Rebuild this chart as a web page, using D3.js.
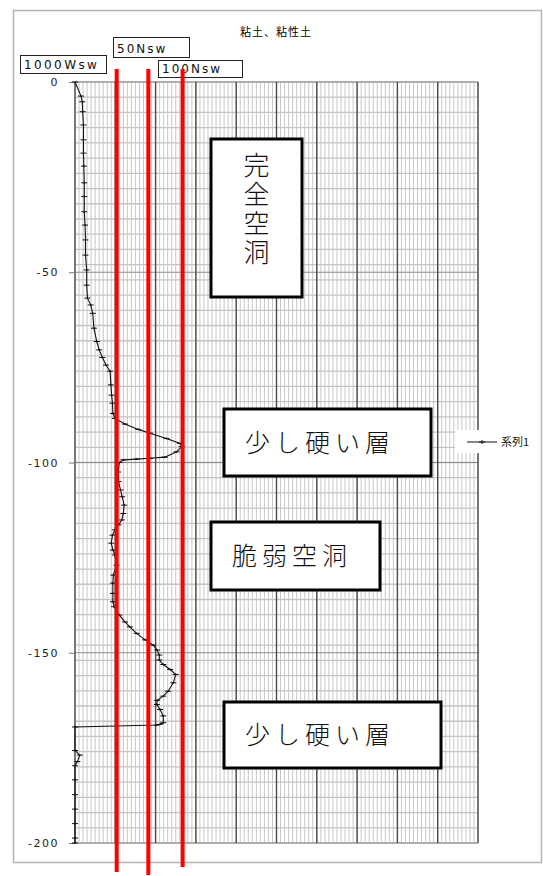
<!DOCTYPE html>
<html>
<head>
<meta charset="utf-8">
<script src="https://cdn.jsdelivr.net/npm/d3@7"></script>
<style>
  body { margin: 0; background: #fff; }
  svg { display: block; }
</style>
</head>
<body>
<svg width="543" height="876"></svg>
<script>
// depth (cm, negative downward) and sounding value
const depth = [0, -3.7, -5.2, -7.8, -11.3, -15.2, -18.7, -22.1, -26.5, -30.1, -34.1, -37.6, -41.5, -45.5, -49.4,
  -53.4, -56.8, -58.6, -60.8, -64.7, -68.2, -70.4, -72.4, -74.4, -76.0, -79.6, -82.3, -84.4, -87.1, -88.4,
  -89.9, -91.3, -92.3, -93.7, -95.0, -95.8, -97.2, -98.6, -98.9, -99.1, -99.3, -100.0, -102.5, -105.0, -107.2,
  -109.0, -111.2, -113.4, -115.1, -116.4, -117.7, -119.1, -121.2, -123.0, -124.3, -127.0, -129.6, -131.7, -134.4,
  -136.6, -137.9, -140.1, -141.9, -143.2, -144.9, -146.6, -148.0, -149.3, -150.6, -151.9, -153.1, -154.4, -155.7,
  -157.9, -160.1, -161.4, -162.5, -163.6, -164.9, -166.6, -168.4, -168.8, -169.0, -169.5, -175.7, -176.9, -178.6,
  -179.7, -183.4, -187.3, -191.1, -194.9, -198.7, -200];
const value = [0, 1.5, 1.8, 1.9, 2.1, 2.1, 2.1, 2.2, 2.3, 2.3, 2.3, 2.5, 2.6, 2.6, 2.9,
  2.9, 3.1, 3.9, 4.4, 4.7, 5.4, 6.0, 6.8, 7.7, 8.7, 8.9, 9.1, 9.3, 9.4, 9.9,
  12.4, 15.7, 18.6, 22.7, 26.1, 26.5, 25.2, 22.3, 18.6, 15.3, 12.0, 11.0, 10.7, 10.8, 11.3,
  11.7, 12.2, 12.0, 11.6, 10.8, 9.9, 9.3, 9.0, 9.4, 9.9, 10.3, 9.5, 9.4, 9.4,
  9.4, 9.7, 11.0, 12.4, 13.6, 15.3, 17.4, 19.4, 20.4, 20.9, 20.9, 21.9, 23.6, 25.0,
  24.4, 23.1, 21.9, 20.4, 20.3, 21.1, 21.9, 21.9, 21.1, 20.3, 0, 0, 1.2, 0.6,
  0, 0, 0, 0, 0, 0, 0];

const yTicks = [0, -50, -100, -150, -200];
const title = "粘土、粘性土";
const seriesName = "系列1";

// reference lines and their labels
const refNames = ["1000Wsw", "50Nsw", "100Nsw"];
const refValues = [10.35, 18.2, 26.7];
const refTop = [3.4, 3.4, 3.4];
const refBottom = [-207.6, -208.4, -206.3];

// annotation boxes
const noteText = ["完全空洞", "少し硬い層", "脆弱空洞", "少し硬い層"];

const svg = d3.select('svg');

const x = d3.scaleLinear().domain([0, 100]).range([75, 478]);
const y = d3.scaleLinear().domain([-200, 0]).range([843, 82]);

// outer frame
svg.append('rect')
    .attr('x', 13.5).attr('y', 10.5)
    .attr('width', 528).attr('height', 852)
    .style('fill', 'none')
    .style('stroke', '#b4b4b4')
    .style('stroke-width', 1.5);

svg.append('text')
    .attr('x', 276).attr('y', 36)
    .attr('text-anchor', 'middle')
    .style('font-family', '"Noto Sans CJK JP"')
    .style('font-size', '11px')
    .style('letter-spacing', '1px')
    .text(title);

const grid = svg.append('g');

// minor vertical grid
grid.selectAll('.vminor')
    .data(d3.range(0, 100.01, 1))
    .enter()
    .append('line')
    .attr('x1', d => x(d)).attr('x2', d => x(d))
    .attr('y1', y(0)).attr('y2', y(-200))
    .style('stroke', '#c8c8c8')
    .style('stroke-width', 1);

// minor horizontal grid
grid.selectAll('.hminor')
    .data(d3.range(0, -200.01, -4))
    .enter()
    .append('line')
    .attr('x1', x(0)).attr('x2', x(100))
    .attr('y1', d => y(d)).attr('y2', d => y(d))
    .style('stroke', '#c4c4c4')
    .style('stroke-width', 1.3);

// major horizontal grid
grid.selectAll('.hmajor')
    .data(yTicks)
    .enter()
    .append('line')
    .attr('x1', x(0)).attr('x2', x(100))
    .attr('y1', d => y(d)).attr('y2', d => y(d))
    .style('stroke', '#8a8a8a')
    .style('stroke-width', 1.2);

// major vertical grid
grid.selectAll('.vmajor')
    .data(d3.range(0, 100.01, 10))
    .enter()
    .append('line')
    .attr('x1', d => x(d)).attr('x2', d => x(d))
    .attr('y1', y(0)).attr('y2', y(-200))
    .style('stroke', '#4a4a4a')
    .style('stroke-width', 1.4);

// y axis
const yAxis = svg.append('g')
    .attr('transform', 'translate(75,0)')
    .call(d3.axisLeft(y).tickValues(yTicks).tickSize(6).tickPadding(10));
yAxis.select('.domain').style('stroke', '#777');
yAxis.selectAll('.tick line').style('stroke', '#777');
yAxis.selectAll('.tick text')
    .style('font-family', '"DejaVu Sans"')
    .style('font-size', '11px')
    .style('letter-spacing', '1.5px')
    .style('fill', '#222')
    .text(d => d === 0 ? '0' : '-' + Math.abs(d));

// curve
const pts = depth.map((d, i) => ({ d: d, v: value[i] }));

svg.append('path')
    .datum(pts)
    .attr('d', d3.line().x(p => x(p.v)).y(p => y(p.d)))
    .style('fill', 'none')
    .style('stroke', '#111')
    .style('stroke-width', 1.1);

svg.selectAll('.mark')
    .data(pts)
    .enter()
    .append('path')
    .attr('transform', p => `translate(${x(p.v)},${y(p.d)})`)
    .attr('d', 'M-3,0H3M0,-1V1')
    .style('stroke', '#111')
    .style('stroke-width', 1);

// labels of reference lines
const labelBox = [[20, 55, 86, 18], [113, 37, 76, 20], [158, 60, 84, 17]];
refNames.forEach((n, i) => {
    const b = labelBox[i];
    svg.append('rect')
        .attr('x', b[0] + 0.5).attr('y', b[1] + 0.5)
        .attr('width', b[2]).attr('height', b[3])
        .style('fill', '#fff')
        .style('stroke', '#222')
        .style('stroke-width', 1);
    svg.append('text')
        .attr('x', b[0] + 4).attr('y', b[1] + b[3] - 4)
        .style('font-family', '"DejaVu Sans"')
        .style('font-size', '12px')
        .style('letter-spacing', i === 0 ? '2.4px' : '2px')
        .style('fill', '#111')
        .text(n);
});

// red reference lines
svg.selectAll('.ref')
    .data(refValues)
    .enter()
    .append('line')
    .attr('x1', d => x(d)).attr('x2', d => x(d))
    .attr('y1', (d, i) => y(refTop[i]))
    .attr('y2', (d, i) => y(refBottom[i]))
    .style('stroke', '#ff0000')
    .style('stroke-width', 4);

// annotation boxes
const noteBox = [[211, 139, 91, 158], [224, 409, 207, 67], [211, 522, 169, 68], [224, 702, 217, 66]];
noteText.forEach((t, i) => {
    const b = noteBox[i];
    svg.append('rect')
        .attr('x', b[0]).attr('y', b[1])
        .attr('width', b[2]).attr('height', b[3])
        .style('fill', '#fff')
        .style('stroke', '#000')
        .style('stroke-width', 3);
    if (i === 0) {
        // vertical writing
        svg.append('text')
            .attr('x', b[0] + b[2] / 2)
            .attr('y', 152)
            .style('writing-mode', 'vertical-rl')
            .style('font-family', '"Noto Sans CJK JP"')
            .style('font-size', '26px')
            .style('font-weight', 300)
            .style('letter-spacing', '3px')
            .style('fill', '#111')
            .text(t);
    } else {
        svg.append('text')
            .attr('x', b[0] + 21)
            .attr('y', b[1] + b[3] / 2 + 9)
            .style('font-family', '"Noto Sans CJK JP"')
            .style('font-size', '25px')
            .style('font-weight', 300)
            .style('letter-spacing', '5px')
            .style('fill', '#111')
            .text(t);
    }
});

// legend
svg.append('rect')
    .attr('x', 455).attr('y', 430)
    .attr('width', 85).attr('height', 23)
    .style('fill', '#fff');
svg.append('line')
    .attr('x1', 467).attr('x2', 497)
    .attr('y1', 442).attr('y2', 442)
    .style('stroke', '#111')
    .style('stroke-width', 1);
svg.append('path')
    .attr('transform', 'translate(482,442)')
    .attr('d', 'M-3,0H3M0,-2V2')
    .style('stroke', '#111');
svg.append('text')
    .attr('x', 501).attr('y', 446)
    .style('font-family', '"Noto Sans CJK JP"')
    .style('font-size', '11px')
    .style('fill', '#111')
    .text(seriesName);
</script>
</body>
</html>
